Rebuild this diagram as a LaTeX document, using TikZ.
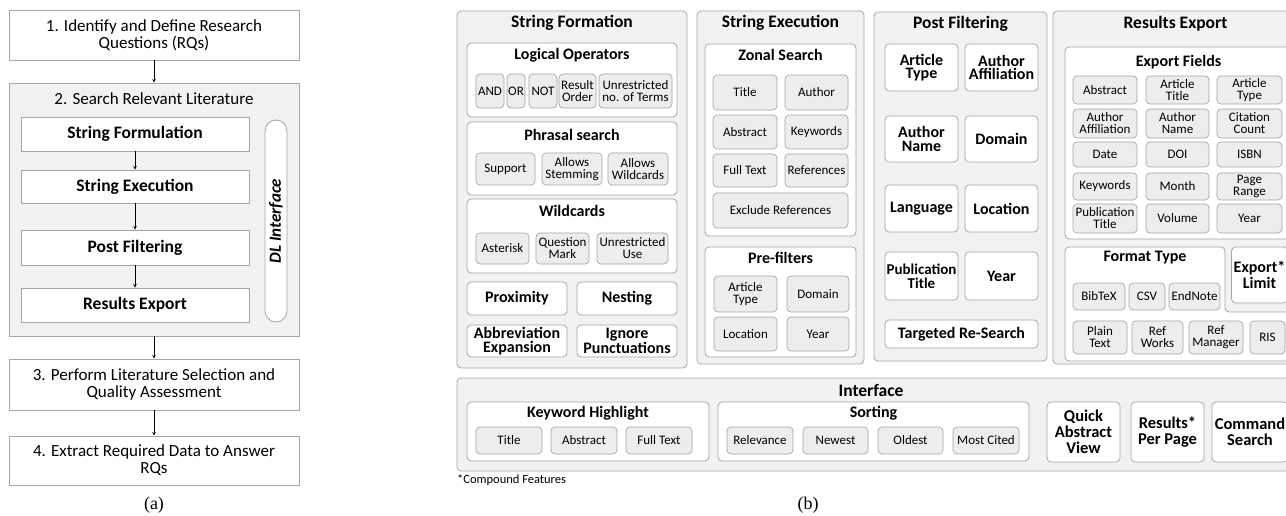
\documentclass[tikz,border=0pt]{standalone}
\usepackage{fontspec}
\setmainfont{Carlito}
\newfontfamily\capfont{Liberation Serif}
\usetikzlibrary{positioning, arrows}

\definecolor{edgegray}{HTML}{A6A6A6}
\definecolor{panelgray}{HTML}{F2F2F2}
\definecolor{itemgray}{HTML}{EDEDED}

\tikzset{
  wh/.style 2 args={minimum width=#1pt, minimum height=#2pt},
  stepbox/.style={draw=edgegray, fill=white, line width=0.8pt, align=center, inner sep=1pt, font=\fontsize{17}{17}\selectfont},
  substep/.style={stepbox, font=\bfseries\fontsize{17.5}{17}\selectfont},
  panelbox/.style={draw=edgegray, fill=panelgray, line width=0.8pt, rounded corners=4pt},
  grpbox/.style={draw=edgegray, fill=white, line width=0.8pt, rounded corners=4pt},
  itembox/.style={draw=edgegray, fill=itemgray, line width=0.7pt, rounded corners=4pt, align=center, inner sep=1pt, font=\fontsize{13}{12}\selectfont},
  bolditem/.style={grpbox, align=center, inner sep=1pt, font=\bfseries\fontsize{16}{13.5}\selectfont},
  ptitle/.style={inner sep=0pt, font=\bfseries\fontsize{17.5}{18}\selectfont},
  gtitle/.style={inner sep=0pt, font=\bfseries\fontsize{16}{16}\selectfont},
  flow/.style={-stealth, line width=0.6pt},
}

\begin{document}
\begin{tikzpicture}[x=1pt, y=-1pt]
\useasboundingbox (0,0) rectangle (1286,516);
\clip (0,0) rectangle (1286,516);

% (a) process
\node[stepbox, wh={290}{50}] (rq) at (154,35) {1. Identify and Define Research\\Questions (RQs)};
\node[stepbox, fill=panelgray, wh={290}{253}] (search) at (154,209.5) {};
\node[font=\fontsize{17}{17}\selectfont, inner sep=0pt] (searchtitle) at (154,99) {2. Search Relevant Literature};
\node[substep, wh={228}{34}] (sform) at (135,134) {String Formulation};
\node[substep, wh={228}{33}] (sexec) at (135,186.5) {String Execution};
\node[substep, wh={228}{35}] (pfilt) at (135,247.5) {Post Filtering};
\node[substep, wh={228}{34}] (rexp) at (135,305) {Results Export};
\node[draw=edgegray, fill=white, line width=0.8pt, rounded corners=11pt, rotate=90, wh={202}{22}, inner sep=0pt, font=\bfseries\itshape\fontsize{17}{17}\selectfont] (dl) at (276,221) {DL Interface};
\node[stepbox, wh={290}{51}] (select) at (154,384.5) {3. Perform Literature Selection and\\Quality Assessment};
\node[stepbox, wh={290}{49}] (extract) at (154,460.5) {4. Extract Required Data to Answer\\RQs};
\node[font=\capfont\fontsize{18}{18}\selectfont] (capa) at (154,505) {(a)};

\draw[flow] (rq) -- (search);
\draw[flow] (sform) -- (sexec);
\draw[flow] (sexec) -- (pfilt);
\draw[flow] (pfilt) -- (rexp);
\draw[flow] (search) -- (select);
\draw[flow] (select) -- (extract);

% (b) string formation
\node[panelbox, wh={230}{357}] (formation) at (572,189.5) {};
\node[ptitle] (formationtitle) at (572,23) {String Formation};
\node[grpbox, wh={210}{74}] (logic) at (572,80) {};
\node[gtitle] (logictitle) at (572,55) {Logical Operators};
\node[itembox, wh={28}{34}] (opand) at (490,91) {AND};
\node[itembox, wh={18}{34}] (opor) at (516,91) {OR};
\node[itembox, wh={28}{34}] (opnot) at (543,91) {NOT};
\node[itembox, wh={37}{34}] (oporder) at (577.5,91) {Result\\Order};
\node[itembox, wh={73}{34}] (opterms) at (635.5,91) {Unrestricted\\no. of Terms};
\node[grpbox, wh={210}{73}] (phrasal) at (572,158.5) {};
\node[gtitle] (phrasaltitle) at (572,135) {Phrasal search};
\node[itembox, wh={59}{32}] (phsupport) at (505.5,169) {Support};
\node[itembox, wh={60}{32}] (phstem) at (572,169) {Allows\\Stemming};
\node[itembox, wh={60}{32}] (phwild) at (638,169) {Allows\\Wildcards};
\node[grpbox, wh={210}{74}] (wild) at (572,236) {};
\node[gtitle] (wildtitle) at (572,211) {Wildcards};
\node[itembox, wh={53}{31}] (wdast) at (502.5,248.5) {Asterisk};
\node[itembox, wh={53}{31}] (wdmark) at (562.5,248.5) {Question\\Mark};
\node[itembox, wh={71}{31}] (wduse) at (632.5,248.5) {Unrestricted\\Use};
\node[bolditem, wh={100}{33}] (prox) at (517,298.5) {Proximity};
\node[bolditem, wh={100}{33}] (nest) at (627,298.5) {Nesting};
\node[bolditem, wh={100}{32}] (abbr) at (517,341) {Abbreviation\\Expansion};
\node[bolditem, wh={100}{32}] (punct) at (627,341) {Ignore\\Punctuations};

% (b) string execution
\node[panelbox, wh={167}{353}] (execution) at (780.5,187.5) {};
\node[ptitle] (executiontitle) at (780.5,23) {String Execution};
\node[grpbox, wh={151}{192}] (zonal) at (780.5,140) {};
\node[gtitle] (zonaltitle) at (780.5,55) {Zonal Search};
\node[itembox, wh={64}{35}] (zntitle) at (745,92.5) {Title};
\node[itembox, wh={63}{35}] (znauthor) at (816.5,92.5) {Author};
\node[itembox, wh={64}{34}] (znabs) at (745,132) {Abstract};
\node[itembox, wh={63}{34}] (znkey) at (816.5,132) {Keywords};
\node[itembox, wh={64}{33}] (znfull) at (745,170.5) {Full Text};
\node[itembox, wh={63}{33}] (znref) at (816.5,170.5) {References};
\node[itembox, wh={135}{35}] (znexcl) at (780.5,210.5) {Exclude References};
\node[grpbox, wh={151}{110}] (prefilt) at (780.5,302) {};
\node[gtitle] (prefilttitle) at (780.5,258) {Pre-filters};
\node[itembox, wh={63}{36}] (prtype) at (745.5,294) {Article\\Type};
\node[itembox, wh={62}{36}] (prdomain) at (818,294) {Domain};
\node[itembox, wh={63}{34}] (prloc) at (745.5,334) {Location};
\node[itembox, wh={62}{34}] (pryear) at (818,334) {Year};

% (b) post filtering
\node[panelbox, wh={173}{349}] (postfilt) at (960.5,186.5) {};
\node[ptitle] (postfilttitle) at (960.5,24) {Post Filtering};
\node[bolditem, wh={73}{47}] (pstype) at (921.5,67.5) {Article\\Type};
\node[bolditem, wh={73}{47}] (psaffil) at (1001.5,67.5) {Author\\Affiliation};
\node[bolditem, wh={73}{46}] (psname) at (921.5,139) {Author\\Name};
\node[bolditem, wh={73}{46}] (psdomain) at (1001.5,139) {Domain};
\node[bolditem, wh={73}{47}] (pslang) at (921.5,208.5) {Language};
\node[bolditem, wh={73}{47}] (psloc) at (1001.5,208.5) {Location};
\node[bolditem, wh={73}{48}, font=\bfseries\fontsize{15}{14}\selectfont] (pspub) at (921.5,276) {Publication\\Title};
\node[bolditem, wh={73}{48}] (psyear) at (1001.5,276) {Year};
\node[bolditem, wh={153}{28}] (psresearch) at (961.5,334) {Targeted Re-Search};

% (b) results export
\node[panelbox, wh={243}{353}] (export) at (1174.5,187.5) {};
\node[ptitle] (exporttitle) at (1175.5,24) {Results Export};
\node[grpbox, wh={225}{192}] (fields) at (1177.5,143) {};
\node[gtitle] (fieldstitle) at (1178.5,62) {Export Fields};
\node[itembox, wh={64}{28}] (fdabs) at (1105,90) {Abstract};
\node[itembox, wh={63}{28}] (fdtitle) at (1177.5,90) {Article\\Title};
\node[itembox, wh={65}{28}] (fdtype) at (1249.5,90) {Article\\Type};
\node[itembox, wh={64}{29}] (fdaffil) at (1105,123.5) {Author\\Affiliation};
\node[itembox, wh={63}{29}] (fdname) at (1177.5,123.5) {Author\\Name};
\node[itembox, wh={65}{29}] (fdcite) at (1249.5,123.5) {Citation\\Count};
\node[itembox, wh={64}{25}] (fddate) at (1105,154.5) {Date};
\node[itembox, wh={63}{25}] (fddoi) at (1177.5,154.5) {DOI};
\node[itembox, wh={65}{25}] (fdisbn) at (1249.5,154.5) {ISBN};
\node[itembox, wh={64}{27}] (fdkey) at (1105,186.5) {Keywords};
\node[itembox, wh={63}{27}] (fdmonth) at (1177.5,186.5) {Month};
\node[itembox, wh={65}{27}] (fdpage) at (1249.5,186.5) {Page\\Range};
\node[itembox, wh={64}{29}] (fdpub) at (1105,218.5) {Publication\\Title};
\node[itembox, wh={63}{29}] (fdvol) at (1177.5,218.5) {Volume};
\node[itembox, wh={65}{29}] (fdyear) at (1249.5,218.5) {Year};
\draw[grpbox] (1065,247) -- (1225,247) -- (1225,312) -- (1294,312) -- (1294,361) -- (1065,361) -- cycle;
\node[gtitle] (formattitle) at (1145,258) {Format Type};
\node[itembox, wh={52}{27}] (fmbib) at (1099,296.5) {BibTeX};
\node[itembox, wh={36}{27}] (fmcsv) at (1147,296.5) {CSV};
\node[itembox, wh={51}{27}] (fmend) at (1194.5,296.5) {EndNote};
\node[itembox, wh={54}{33}] (fmplain) at (1100,337.5) {Plain\\Text};
\node[itembox, wh={51}{33}] (fmworks) at (1157.5,337.5) {Ref\\Works};
\node[itembox, wh={54}{33}] (fmmanager) at (1216,337.5) {Ref\\Manager};
\node[itembox, wh={35}{33}] (fmris) at (1267.5,337.5) {RIS};
\node[bolditem, wh={56}{56}, font=\bfseries\fontsize{16}{16}\selectfont] (limit) at (1259.5,275) {Export*\\Limit};

% (b) interface
\node[panelbox, wh={839}{93}] (interface) at (876.5,424.5) {};
\node[ptitle] (interfacetitle) at (871,390) {Interface};
\node[grpbox, wh={242}{59}] (highlight) at (588,431.5) {};
\node[gtitle] (highlighttitle) at (588,413) {Keyword Highlight};
\node[itembox, wh={66}{27}] (hltitle) at (509,440.5) {Title};
\node[itembox, wh={66}{27}] (hlabs) at (584,440.5) {Abstract};
\node[itembox, wh={66}{27}] (hlfull) at (659,440.5) {Full Text};
\node[grpbox, wh={311}{59}] (sorting) at (873.5,431.5) {};
\node[gtitle] (sortingtitle) at (873.5,413) {Sorting};
\node[itembox, wh={66}{27}] (strel) at (760,440.5) {Relevance};
\node[itembox, wh={65}{27}] (stnew) at (835.5,440.5) {Newest};
\node[itembox, wh={65}{27}] (stold) at (910.5,440.5) {Oldest};
\node[itembox, wh={66}{27}] (stcited) at (986,440.5) {Most Cited};
\node[bolditem, wh={73}{60}, font=\bfseries\fontsize{16.5}{16}\selectfont] (quick) at (1083.5,432) {Quick\\Abstract\\View};
\node[bolditem, wh={73}{60}, font=\bfseries\fontsize{16.5}{16}\selectfont] (perpage) at (1167.5,432) {Results*\\Per Page};
\node[bolditem, wh={76}{60}, font=\bfseries\fontsize{16.5}{16}\selectfont] (command) at (1250,432) {Command\\Search};
\node[anchor=west, inner sep=0pt, font=\fontsize{12.5}{12.5}\selectfont] (compound) at (457,480) {*Compound Features};
\node[font=\capfont\fontsize{18}{18}\selectfont] (capb) at (808,505) {(b)};
\end{tikzpicture}
\end{document}
